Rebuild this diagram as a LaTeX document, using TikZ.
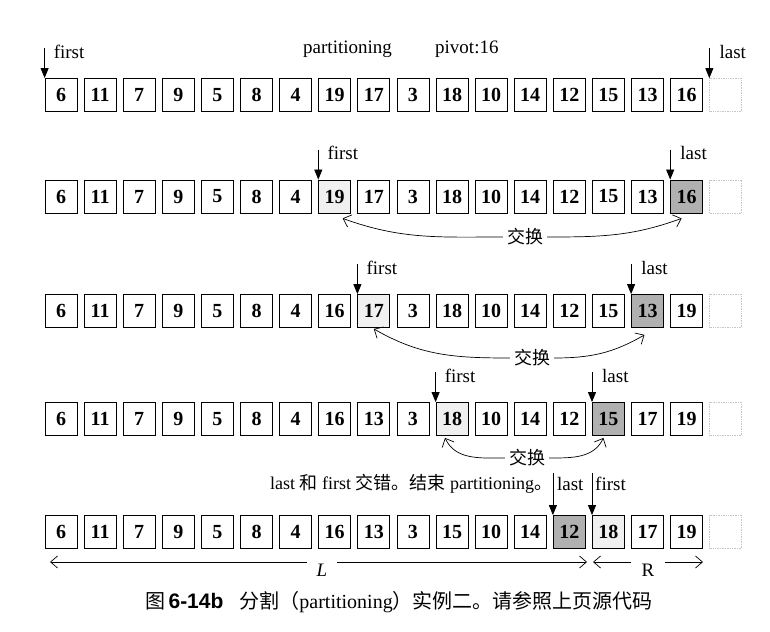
\documentclass[tikz,border=0pt]{standalone}
\usepackage{fontspec}
\setmainfont{Liberation Serif}
\newfontfamily\cjk{Noto Sans CJK SC}
\newfontfamily\capsans{Liberation Sans}
\usetikzlibrary{arrows.meta, positioning}

\begin{document}
\begin{tikzpicture}[
    x=1pt, y=1pt,
    cell/.style={draw, line width=0.8pt, minimum width=32pt, minimum height=33pt,
                 inner sep=0pt, font=\fontsize{20}{20}\selectfont\bfseries},
    hole/.style={draw=gray!45, densely dotted, line width=0.7pt,
                 minimum width=32pt, minimum height=33pt, inner sep=0pt},
    lbl/.style={anchor=base west, inner sep=0pt, font=\fontsize{19}{19}\selectfont},
    ptr/.style={-{Triangle[length=10pt, width=8pt]}, line width=0.8pt},
    swaptxt/.style={inner sep=4pt, font=\cjk\fontsize{18}{18}\selectfont},
    swap/.style={-{Straight Barb[length=7pt, width=13pt]}, line width=0.7pt},
    spantxt/.style={inner sep=10pt, font=\fontsize{19}{19}\selectfont},
    span/.style={-{Straight Barb[length=7pt, width=12pt]}, line width=0.7pt}
]
\useasboundingbox (0,0) rectangle (770,631);

% the five states of the array
\foreach \r/\y/\lo/\hi/\vals in {
    1/536/-1/-1/{6,11,7,9,5,8,4,19,17,3,18,10,14,12,15,13,16},
    2/434.5/7/16/{6,11,7,9,5,8,4,19,17,3,18,10,14,12,15,13,16},
    3/320/8/15/{6,11,7,9,5,8,4,16,17,3,18,10,14,12,15,13,19},
    4/212/10/14/{6,11,7,9,5,8,4,16,13,3,18,10,14,12,15,17,19},
    5/99/14/13/{6,11,7,9,5,8,4,16,13,3,15,10,14,12,18,17,19}} {
  \foreach \v [count=\i from 0] in \vals {
    \ifnum\i=\lo \def\cellfill{gray!12}\else
      \ifnum\i=\hi \def\cellfill{gray!62}\else \def\cellfill{white}\fi\fi
    \node[cell, fill=\cellfill] (r\r-\i) at ({61+39.1*\i},\y) {\v};
  }
  \node[hole] (r\r-17) at ({61+39.1*17},\y) {};
}

% first / last pointers
\foreach \r/\f/\l in {1/0/17, 2/7/16, 3/8/15, 4/10/14} {
  \coordinate[above=30pt of r\r-\f.north west] (f\r);
  \coordinate[above=30pt of r\r-\l.north west] (l\r);
  \draw[ptr] (f\r) -- (r\r-\f.north west);
  \draw[ptr] (l\r) -- (r\r-\l.north west);
  \node[lbl] (first\r) at ([shift={(9pt,20pt)}]r\r-\f.north west) {first};
  \node[lbl] (last\r) at ([shift={(10pt,20pt)}]r\r-\l.north west) {last};
}
\node[lbl] (part) at (303,577) {partitioning};
\node[lbl] (pivot) at (435,577) {pivot:16};

\coordinate[above=42pt of r5-13.north west] (l5);
\coordinate[above=42pt of r5-14.north west] (f5);
\draw[ptr] (l5) -- (r5-13.north west);
\draw[ptr] (f5) -- (r5-14.north west);
\node[lbl] (last5) at ([shift={(4pt,25pt)}]r5-13.north west) {last};
\node[lbl] (first5) at ([shift={(3pt,25pt)}]r5-14.north west) {first};
\node[lbl, font=\fontsize{18}{18}\selectfont] (note) at (270,141)
  {last {\cjk 和} first {\cjk 交错。结束} partitioning{\cjk 。}};

% swaps
\node[swaptxt] (x2) at (525,394) {交换};
\draw[swap] (x2.west) to[out=180, in=-20] ([shift={(8pt,-5pt)}]r2-7.south);
\draw[swap] (x2.east) to[out=0, in=-160] ([shift={(-5pt,-5pt)}]r2-16.south);

\node[swaptxt] (x3) at (532,273) {交换};
\draw[swap] (x3.west) to[out=180, in=-30] ([shift={(0pt,-1pt)}]r3-8.south);
\draw[swap] (x3.east) to[out=0, in=-150] ([shift={(-3pt,-7pt)}]r3-15.south);

\node[swaptxt] (x4) at (527,173) {交换};
\draw[swap] (x4.west) to[out=180, in=-65] ([shift={(-7pt,-2pt)}]r4-10.south);
\draw[swap] (x4.east) to[out=0, in=-115] ([shift={(-5pt,-2pt)}]r4-14.south);

% L and R ranges
\node[spantxt] (L) at (322,61) {\textit{L}};
\coordinate (Lw) at (50,69);
\coordinate (Le) at (587,69);
\draw[span] (L.west |- Lw) -- (Lw);
\draw[span] (L.east |- Le) -- (Le);

\node[spantxt] (R) at (648,61) {R};
\coordinate (Rw) at (593,69);
\coordinate (Re) at (703,69);
\draw[span] (R.west |- Rw) -- (Rw);
\draw[span] (R.east |- Re) -- (Re);

% caption
\node[font=\fontsize{20}{20}\selectfont] (cap) at (399,29)
  {{\cjk 图}\,{\capsans\bfseries\fontsize{21}{21}\selectfont 6-14b}\hspace{16pt}{\cjk 分割（}partitioning{\cjk ）实例二。请参照上页源代码}};

\end{tikzpicture}
\end{document}
